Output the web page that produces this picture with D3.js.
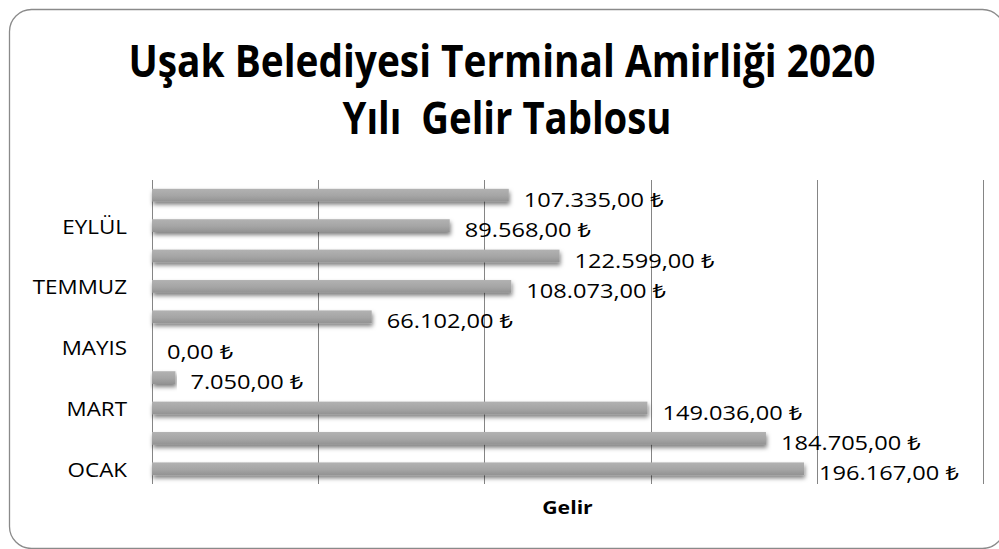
<!DOCTYPE html>
<html>
<head>
<meta charset="utf-8">
<script src="https://cdn.jsdelivr.net/npm/d3@7"></script>
<style>
  body { margin: 0; background: #fff; }
  svg { display: block; font-family: "Open Sans", "Noto Sans", sans-serif; }
</style>
</head>
<body>
<div id="chart"></div>
<script>
// months from bottom (OCAK) to top (EKİM)
var months = ["OCAK", "ŞUBAT", "MART", "NİSAN", "MAYIS", "HAZİRAN", "TEMMUZ", "AĞUSTOS", "EYLÜL", "EKİM"];
var gelir = [196167, 184705, 149036, 7050, 0, 66102, 108073, 122599, 89568, 107335];
var shownLabels = ["OCAK", "MART", "MAYIS", "TEMMUZ", "EYLÜL"];
var gridTicks = [0, 50000, 100000, 150000, 200000, 250000];
var titleLines = ["Uşak Belediyesi Terminal Amirliği 2020", "Yılı  Gelir Tablosu"];
var axisTitle = "Gelir";

var data = months.map(function(m, i) { return {month: m, value: gelir[i]}; });

var W = 999, H = 549;
var margin = {top: 180, right: 16, bottom: 65, left: 152};

var svg = d3.select("#chart").append("svg")
    .attr("width", W)
    .attr("height", H);

// widen text a bit, the original looks horizontally stretched
function stretch(sel, k) {
  sel.each(function() {
    var len = this.getComputedTextLength();
    d3.select(this)
      .attr("textLength", len * k)
      .attr("lengthAdjust", "spacingAndGlyphs");
  });
}

var defs = svg.append("defs");
var grad = defs.append("linearGradient")
    .attr("id", "barGrad")
    .attr("x1", 0).attr("y1", 0).attr("x2", 0).attr("y2", 1);
grad.append("stop").attr("offset", "0%").attr("stop-color", "#b2b2b2");
grad.append("stop").attr("offset", "55%").attr("stop-color", "#a5a5a5");
grad.append("stop").attr("offset", "100%").attr("stop-color", "#929292");

var shadow = defs.append("filter")
    .attr("id", "shadow")
    .attr("x", "-5%").attr("y", "-60%").attr("width", "110%").attr("height", "240%");
shadow.append("feDropShadow")
    .attr("dx", 1).attr("dy", 3)
    .attr("stdDeviation", 2)
    .attr("flood-color", "#000")
    .attr("flood-opacity", 0.5);

// outer rounded frame
svg.append("rect")
    .attr("x", 9.5).attr("y", 9.5)
    .attr("width", 995).attr("height", 539)
    .attr("rx", 22).attr("ry", 22)
    .attr("fill", "#fff")
    .attr("stroke", "#8a8a8a")
    .attr("stroke-width", 1.3);

// title
svg.append("g").selectAll("text").data(titleLines).enter()
  .append("text")
    .attr("x", function(d, i) { return i == 0 ? 502 : 507; })
    .attr("y", function(d, i) { return i == 0 ? 77 : 134; })
    .attr("text-anchor", "middle")
    .style("white-space", "pre")
    .style("font-size", "44px")
    .style("font-weight", "bold")
    .attr("textLength", function(d, i) { return i == 0 ? 747 : 329; })
    .attr("lengthAdjust", "spacingAndGlyphs")
    .attr("fill", "#000")
    .text(function(d) { return d; });

var x = d3.scaleLinear()
    .domain([0, 250000])
    .range([margin.left, W - margin.right]);

var y = d3.scaleBand()
    .domain(months)
    .range([H - margin.bottom, margin.top])
    .paddingInner(0.58)
    .paddingOuter(0.29);

// vertical gridlines
svg.append("g").selectAll("line").data(gridTicks).enter()
  .append("line")
    .attr("x1", function(d) { return Math.round(x(d)) + 0.5; })
    .attr("x2", function(d) { return Math.round(x(d)) + 0.5; })
    .attr("y1", margin.top)
    .attr("y2", H - margin.bottom)
    .attr("stroke", "#858585")
    .attr("stroke-width", 1);

// category axis, every second label
var yAxis = svg.append("g")
    .attr("transform", "translate(" + (margin.left - 25) + ",0)")
    .call(d3.axisLeft(y).tickValues(shownLabels).tickSize(0).tickPadding(0));
yAxis.select(".domain").remove();
yAxis.selectAll("text")
    .style("font-size", "20px")
    .style("font-family", "\"Open Sans\", sans-serif")
    .attr("fill", "#000")
    .attr("dy", "0.4em")
    .call(stretch, 1.12);

// bars
svg.append("g").selectAll("rect").data(data).enter()
  .append("rect")
    .attr("x", x(0))
    .attr("y", function(d) { return y(d.month); })
    .attr("width", function(d) { return x(d.value) - x(0); })
    .attr("height", y.bandwidth())
    .attr("fill", "url(#barGrad)")
    .attr("filter", "url(#shadow)");

// value labels
var loc = d3.formatLocale({decimal: ",", thousands: ".", grouping: [3], currency: ["", " ₺"]});
var fmt = loc.format("$,.2f");

svg.append("g").selectAll("text").data(data).enter()
  .append("text")
    .attr("x", function(d) { return x(d.value) + 15; })
    .attr("y", function(d) { return y(d.month) + y.bandwidth() / 2 + 11.5; })
    .style("font-size", "20px")
    .attr("fill", "#000")
    .text(function(d) { return fmt(d.value); })
    .call(stretch, 1.18);

// axis title
svg.append("text")
    .attr("x", (x.range()[0] + x.range()[1]) / 2)
    .attr("y", 514)
    .attr("text-anchor", "middle")
    .style("font-size", "18px")
    .style("font-weight", "bold")
    .text(axisTitle)
    .call(stretch, 1.18);
</script>
</body>
</html>
